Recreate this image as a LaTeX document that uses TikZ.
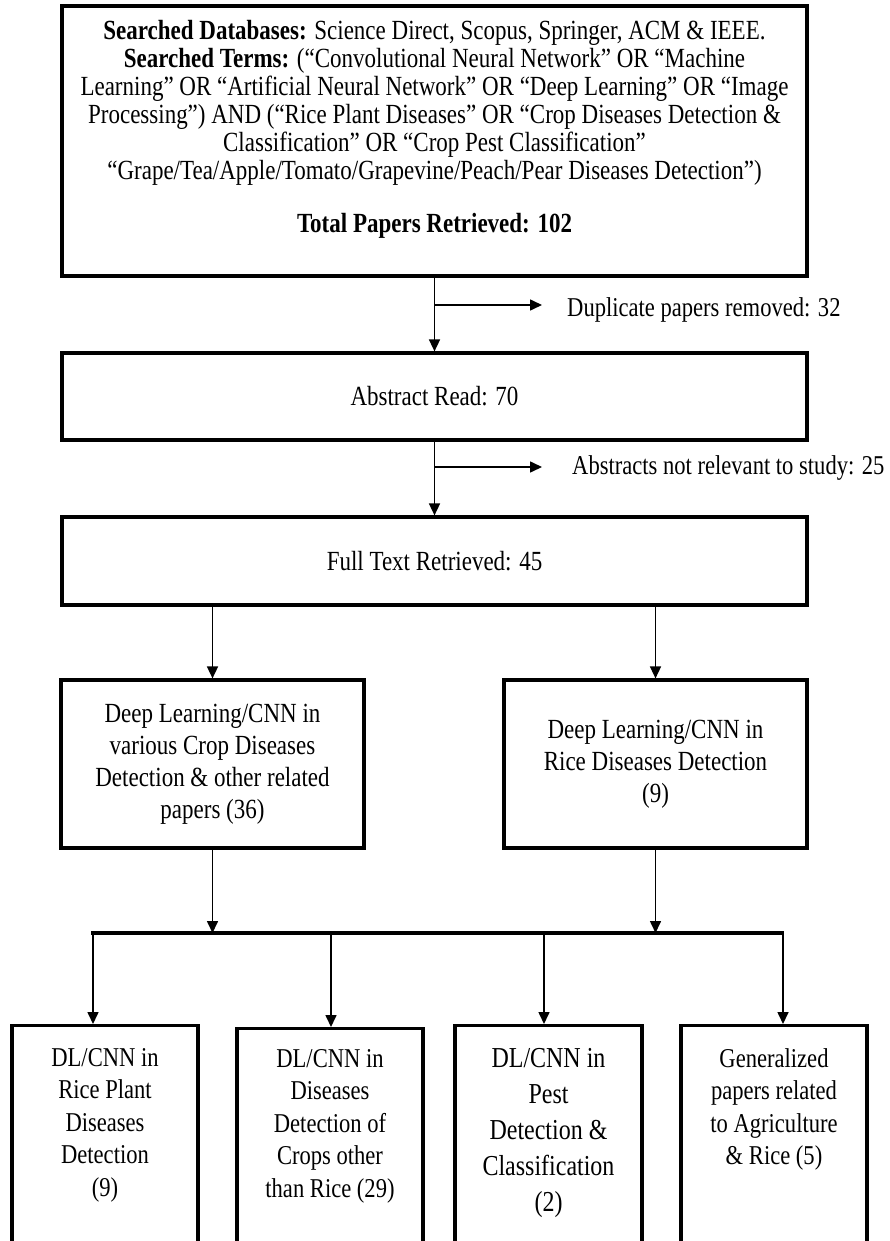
\documentclass[tikz,border=0pt]{standalone}
\usepackage{fontspec}
\setmainfont{Liberation Serif}[FakeStretch=0.83]
\usetikzlibrary{arrows.meta}
\tikzset{
	box/.style={draw, line width=3.2pt, inner sep=0pt},
	arr/.style={line width=1.6pt, -{Triangle[length=12pt,width=11pt]}},
	txt/.style={align=center, inner sep=0pt},
}
\begin{document}
\begin{tikzpicture}[x=1pt,y=-1pt]
	\useasboundingbox (0,0) rectangle (890,1241);
	%Draw search box
	\node[box, minimum width=745, minimum height=270] (search) at (434.5,141) {};
	\node[txt, anchor=north, font=\fontsize{27.7}{28}\selectfont] (terms) at (434.5,20) {\textbf{Searched Databases:} Science Direct, Scopus, Springer, ACM \& IEEE.\\
		\textbf{Searched Terms:} (“Convolutional Neural Network” OR “Machine\\
		Learning” OR “Artificial Neural Network” OR “Deep Learning” OR “Image\\
		Processing”) AND (“Rice Plant Diseases” OR “Crop Diseases Detection \&\\
		Classification” OR “Crop Pest Classification”\\
		“Grape/Tea/Apple/Tomato/Grapevine/Peach/Pear Diseases Detection”)\\[25pt]
		\textbf{Total Papers Retrieved: 102}};
	%Draw screening boxes
	\node[box, minimum width=745, minimum height=87, font=\fontsize{27.7}{28}\selectfont] (abstract) at (434.5,396.5) {Abstract Read: 70};
	\node[box, minimum width=745, minimum height=88, font=\fontsize{27.7}{28}\selectfont] (fulltext) at (434.5,561) {Full Text Retrieved: 45};
	%Draw removed labels
	\node[txt, anchor=west, font=\fontsize{27.2}{28}\selectfont] (dup) at (567,310) {Duplicate papers removed: 32};
	\node[txt, anchor=west, font=\fontsize{27.2}{28}\selectfont] (notrel) at (572,468) {Abstracts not relevant to study: 25};
	\coordinate (b1) at (434.5,305);
	\coordinate (d1) at (542,305);
	\coordinate (b2) at (434.5,467);
	\coordinate (d2) at (542,467);

	%Draw category boxes
	\node[box, minimum width=303, minimum height=168, align=center, font=\fontsize{27.7}{32}\selectfont] (crop) at (212.5,764) {Deep Learning/CNN in\\various Crop Diseases\\Detection \& other related\\papers (36)};
	\node[box, minimum width=303, minimum height=168, align=center, font=\fontsize{27.7}{32}\selectfont] (rice) at (655.5,764) {Deep Learning/CNN in\\Rice Diseases Detection\\(9)};

	%Draw result boxes
	\node[box, anchor=north, minimum width=186, minimum height=230] (r1) at (105,1024) {};
	\node[box, anchor=north, minimum width=186, minimum height=227] (r2) at (330,1027) {};
	\node[box, anchor=north, minimum width=187, minimum height=230] (r3) at (548.5,1024) {};
	\node[box, anchor=north, minimum width=186, minimum height=230] (r4) at (774,1024) {};
	\node[txt, anchor=north, font=\fontsize{27.2}{32.5}\selectfont] (r1 text) at ([yshift=-24pt]r1.north) {DL/CNN in\\Rice Plant\\Diseases\\Detection\\(9)};
	\node[txt, anchor=north, font=\fontsize{27.2}{32.5}\selectfont] (r2 text) at ([yshift=-22pt]r2.north) {DL/CNN in\\Diseases\\Detection of\\Crops other\\than Rice (29)};
	\node[txt, anchor=north, font=\fontsize{28.9}{36}\selectfont] (r3 text) at ([yshift=-24pt]r3.north) {DL/CNN in\\Pest\\Detection \&\\Classification\\(2)};
	\node[txt, anchor=north, font=\fontsize{27.2}{32.5}\selectfont] (r4 text) at ([yshift=-24pt]r4.north) {Generalized\\papers related\\to Agriculture\\\& Rice (5)};

	%Draw arrows
	\draw[arr] (search.south) -- (abstract.north);
	\draw[arr] (b1) -- (d1);
	\draw[arr] (abstract.south) -- (fulltext.north);
	\draw[arr] (b2) -- (d2);
	\draw[arr] (crop.north |- fulltext.south) -- (crop.north);
	\draw[arr] (rice.north |- fulltext.south) -- (rice.north);
	%Draw bar
	\coordinate (bar west) at (91,933);
	\coordinate (bar east) at (784,933);
	\draw[line width=3.2pt] (bar west) -- (bar east);
	\draw[arr] (crop.south) -- (crop.south |- bar west);
	\draw[arr] (rice.south) -- (rice.south |- bar west);
	\foreach \x/\n in {93/1,331/2,544/3,783/4}{
		\coordinate (t\n) at (\x,933);
		\draw[arr] (t\n) -- (t\n |- r\n.north);
	}
\end{tikzpicture}
\end{document}
